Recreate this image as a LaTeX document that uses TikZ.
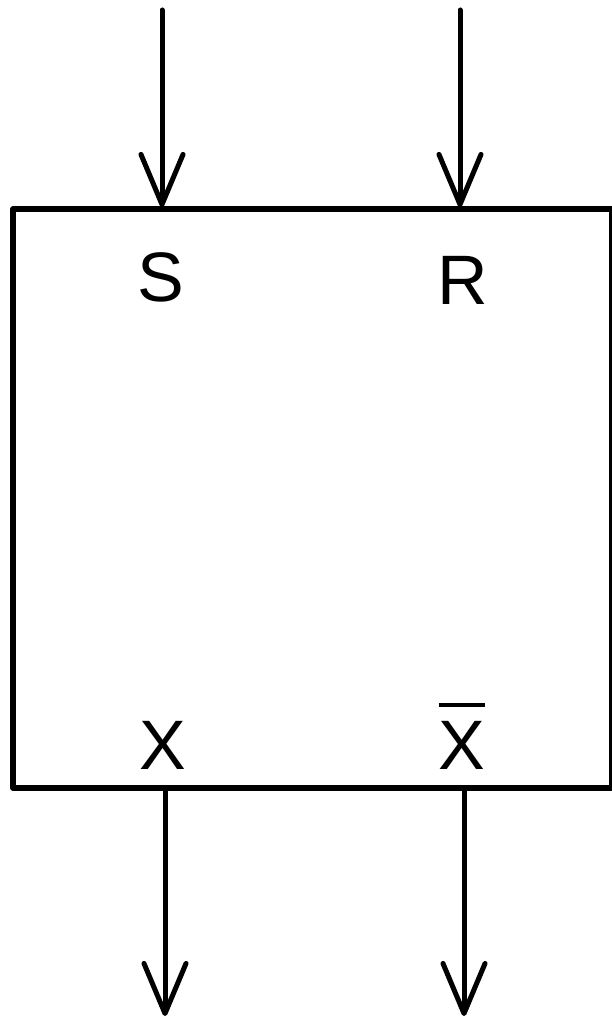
\documentclass[tikz,border=0pt]{standalone}
\usepackage{fontspec}
\setmainfont{Liberation Sans}
\usetikzlibrary{arrows.meta}
\newcommand\barX{\vbox{\hrule height 4pt\kern 14pt\hbox{X}}}
\begin{document}
\begin{tikzpicture}[x=1pt,y=-1pt,
  lbl/.style={inner sep=0pt,font=\fontsize{70}{70}\selectfont},
  sig/.style={line width=5pt,line cap=round,
    -{Straight Barb[length=50pt,width=42pt,line width=5pt,line cap=round,round]}},
  blk/.style={draw,line width=5.5pt,line join=round}]
\useasboundingbox (0,0) rectangle (612,1019);
\draw[blk] (13,209) rectangle (612,788);
\coordinate (sin) at (162,10);
\coordinate (rin) at (460,10);
\coordinate (stop) at (162,207);
\coordinate (rtop) at (460,207);
\coordinate (xb) at (165,790);
\coordinate (xbb) at (464,790);
\coordinate (xout) at (165,1016);
\coordinate (xbout) at (464,1016);
\node[lbl] (S) at (161,277) {S};
\node[lbl] (R) at (463,280) {R};
\node[lbl,anchor=base] (X) at (163,769) {X};
\node[lbl,anchor=base] (Xb) at (462,769) {\barX};
\draw[sig] (sin) -- (stop);
\draw[sig] (rin) -- (rtop);
\draw[sig] (xb) -- (xout);
\draw[sig] (xbb) -- (xbout);
\end{tikzpicture}
\end{document}
